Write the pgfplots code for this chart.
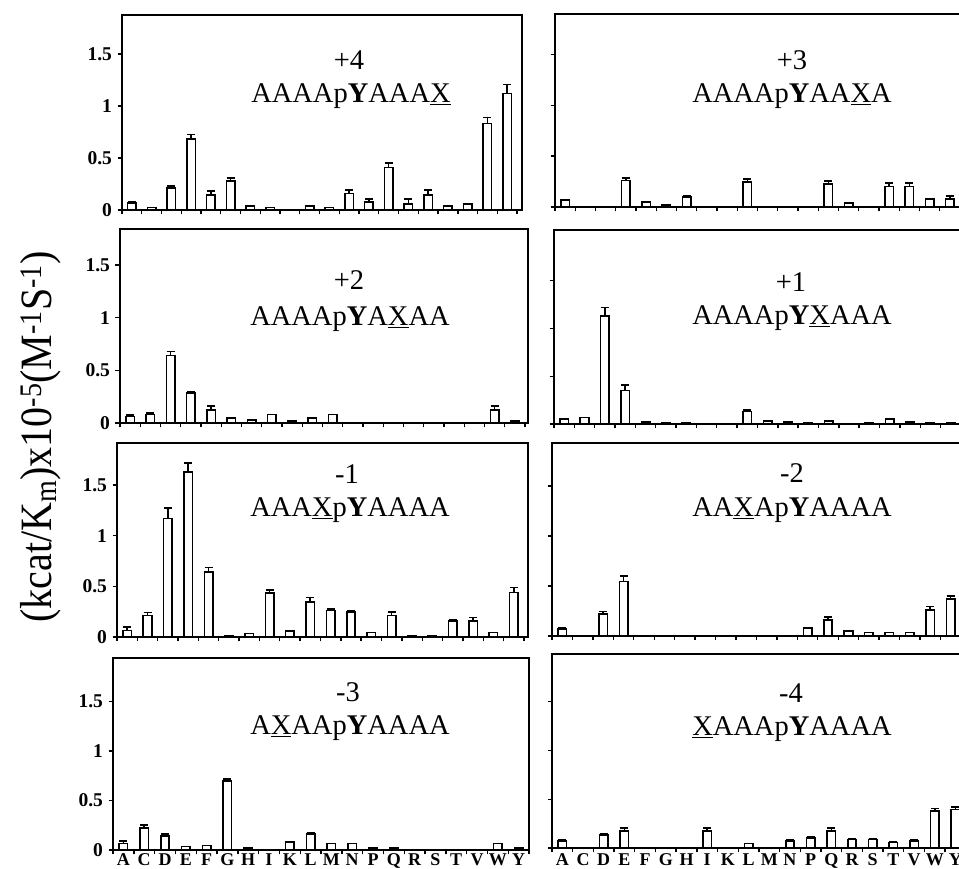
\documentclass[border=0pt]{standalone}
\usepackage{fontspec}
\setmainfont{Liberation Serif}
\usepackage{pgfplots}
\pgfplotsset{compat=1.18}
\usepackage{pgfplotstable}

% x index: A0 C1 D2 E3 F4 G5 H6 I7 K8 L9 M10 N11 P12 Q13 R14 S15 T16 V17 W18 Y19
\pgfplotstableread{
x y e
0 0.065 0.012
1 0.025 0
2 0.21 0.02
3 0.68 0.045
4 0.145 0.035
5 0.28 0.03
6 0.04 0
7 0.025 0
9 0.04 0
10 0.025 0
11 0.16 0.03
12 0.075 0.03
13 0.41 0.04
14 0.06 0.045
15 0.145 0.05
16 0.04 0
17 0.06 0
18 0.83 0.06
19 1.12 0.085
}\dPfour
\pgfplotstableread{
x y e
0 0.066 0
3 0.26 0.025
4 0.05 0
5 0.02 0
6 0.1 0.012
9 0.245 0.03
13 0.226 0.03
14 0.04 0
16 0.2 0.035
17 0.2 0.035
18 0.08 0
19 0.08 0.03
}\dPthree
\pgfplotstableread{
x y e
0 0.063 0.015
1 0.08 0.015
2 0.64 0.04
3 0.285 0.015
4 0.125 0.035
5 0.047 0
6 0.03 0
7 0.08 0
8 0.02 0
9 0.047 0
10 0.08 0
18 0.125 0.035
19 0.02 0
}\dPtwo
\pgfplotstableread{
x y e
0 0.05 0
1 0.066 0
2 1.13 0.09
3 0.35 0.06
4 0.02 0
5 0.01 0
6 0.01 0
9 0.13 0.015
10 0.03 0
11 0.02 0
12 0.01 0
13 0.03 0
15 0.01 0
16 0.05 0
17 0.02 0
18 0.01 0
19 0.01 0
}\dPone
\pgfplotstableread{
x y e
0 0.066 0.03
1 0.213 0.03
2 1.17 0.105
3 1.63 0.09
4 0.64 0.045
5 0.013 0
6 0.033 0
7 0.433 0.033
8 0.062 0
9 0.345 0.045
10 0.263 0.013
11 0.246 0.017
12 0.046 0
13 0.213 0.033
14 0.013 0
15 0.013 0
16 0.16 0.01
17 0.16 0.034
18 0.043 0
19 0.44 0.05
}\dMone
\pgfplotstableread{
x y e
0 0.067 0.013
2 0.217 0.026
3 0.543 0.057
12 0.077 0
13 0.16 0.027
14 0.05 0
15 0.033 0
16 0.033 0
17 0.033 0
18 0.26 0.033
19 0.367 0.033
}\dMtwo
\pgfplotstableread{
x y e
0 0.064 0.024
1 0.223 0.027
2 0.142 0.02
3 0.034 0
4 0.047 0
5 0.696 0.024
6 0.02 0
8 0.081 0
9 0.159 0.016
10 0.064 0
11 0.064 0
12 0.02 0
13 0.02 0
18 0.067 0
19 0.02 0
}\dMthree
\pgfplotstableread{
x y e
0 0.069 0.011
2 0.131 0.01
3 0.175 0.031
7 0.175 0.031
9 0.045 0
11 0.069 0.011
12 0.103 0.01
13 0.175 0.031
14 0.089 0.007
15 0.089 0.007
16 0.055 0.007
17 0.069 0.011
18 0.378 0.028
19 0.396 0.027
}\dMfour

\pgfplotsset{
  panel/.style={
    scale only axis,
    anchor=south west,
    xmin=-0.5, ymin=0,
    xtick={-0.5,0.5,...,19.5},
    xticklabels={},
    ytick={0,0.5,1,1.5},
    xtick pos=lower, ytick pos=left,
    tick align=outside,
    major tick length=4.5pt,
    tick style={line width=1.4pt, black},
    axis line style={line width=1.8pt},
    yticklabel style={font=\fontsize{19.5}{19.5}\selectfont\bfseries, xshift=-2pt},
    /pgf/number format/assume math mode=true,
    clip=false,
  },
  nolab/.style={yticklabels={}},
  bottomlab/.style={
    extra x ticks={0,...,19},
    extra x tick labels={A,C,D,E,F,G,H,I,K,L,M,N,P,Q,R,S,T,V,W,Y},
    extra x tick style={major tick length=0pt,
      xticklabel style={font=\fontsize{18}{18}\selectfont\bfseries, anchor=base, inner sep=0pt, yshift=#1}},
  },
  barplot/.style={ybar, bar width=8.5pt, draw=black, fill=white, line width=1.6pt,
    error bars/.cd, y dir=plus, y explicit,
    error bar style={line width=1.6pt, black},
    error mark options={rotate=90, line width=1.6pt, mark size=4pt, black}},
}
\newcommand{\tfont}{\fontsize{28.5}{28.5}\selectfont}

\begin{document}
\begin{tikzpicture}[x=1pt,y=1pt]
\useasboundingbox (0,0) rectangle (959,869);
\clip (0,0) rectangle (959,869);

% Row 1
\begin{axis}[panel, at={(122pt,659pt)}, width=400pt, height=195pt, xmax=19.75, ymax=1.875]
\addplot[barplot] table[x=x,y=y,y error=e]{\dPfour};
\end{axis}
\begin{axis}[panel, nolab, at={(555pt,662pt)}, width=410pt, height=193pt, xmax=19.75, ymax=1.90]
\addplot[barplot] table[x=x,y=y,y error=e]{\dPthree};
\end{axis}
% Row 2
\begin{axis}[panel, at={(120pt,446pt)}, width=408pt, height=194pt, xmax=19.65, ymax=1.842]
\addplot[barplot] table[x=x,y=y,y error=e]{\dPtwo};
\end{axis}
\begin{axis}[panel, nolab, at={(554pt,445pt)}, width=412pt, height=194pt, xmax=19.75, ymax=2.03]
\addplot[barplot] table[x=x,y=y,y error=e]{\dPone};
\end{axis}
% Row 3
\begin{axis}[panel, at={(117pt,232pt)}, width=411pt, height=194pt, xmax=19.7, ymax=1.915]
\addplot[barplot] table[x=x,y=y,y error=e]{\dMone};
\end{axis}
\begin{axis}[panel, nolab, at={(552pt,233pt)}, width=414pt, height=193pt, xmax=19.75, ymax=1.93]
\addplot[barplot] table[x=x,y=y,y error=e]{\dMtwo};
\end{axis}
% Row 4
\begin{axis}[panel, bottomlab=-15.5pt, at={(113pt,19pt)}, width=416pt, height=192pt, xmax=19.5, ymax=1.94]
\addplot[barplot] table[x=x,y=y,y error=e]{\dMthree};
\end{axis}
\begin{axis}[panel, nolab, bottomlab=-17.5pt, at={(552pt,21pt)}, width=419pt, height=194pt, xmax=19.75, ymax=1.99]
\addplot[barplot] table[x=x,y=y,y error=e]{\dMfour};
\end{axis}

% Panel annotations
\node[anchor=base, inner sep=0pt] at (349,799) {\tfont +4};
\node[anchor=base, inner sep=0pt] at (351,766) {\tfont AAAAp\textbf{Y}AAA\underline{X}};
\node[anchor=base, inner sep=0pt] at (792,799) {\tfont +3};
\node[anchor=base, inner sep=0pt] at (792,766) {\tfont AAAAp\textbf{Y}AA\underline{X}A};
\node[anchor=base, inner sep=0pt] at (349,579) {\tfont +2};
\node[anchor=base, inner sep=0pt] at (350,543) {\tfont AAAAp\textbf{Y}A\underline{X}AA};
\node[anchor=base, inner sep=0pt] at (791,577) {\tfont +1};
\node[anchor=base, inner sep=0pt] at (792,544) {\tfont AAAAp\textbf{Y}\underline{X}AAA};
\node[anchor=base, inner sep=0pt] at (347,385) {\tfont -1};
\node[anchor=base, inner sep=0pt] at (350,352) {\tfont AAA\underline{X}p\textbf{Y}AAAA};
\node[anchor=base, inner sep=0pt] at (792,386) {\tfont -2};
\node[anchor=base, inner sep=0pt] at (792,352) {\tfont AA\underline{X}Ap\textbf{Y}AAAA};
\node[anchor=base, inner sep=0pt] at (348,167) {\tfont -3};
\node[anchor=base, inner sep=0pt] at (350,134) {\tfont A\underline{X}AAp\textbf{Y}AAAA};
\node[anchor=base, inner sep=0pt] at (791,166) {\tfont -4};
\node[anchor=base, inner sep=0pt] at (792,133) {\tfont \underline{X}AAAp\textbf{Y}AAAA};

% Y axis label
\node[rotate=90, inner sep=0pt] at (41,432) {\scalebox{1}[1.12]{\fontsize{40}{40}\selectfont (kcat/K\textsubscript{m})x10\textsuperscript{-5}(M\textsuperscript{-1}S\textsuperscript{-1})}};
\end{tikzpicture}
\end{document}
